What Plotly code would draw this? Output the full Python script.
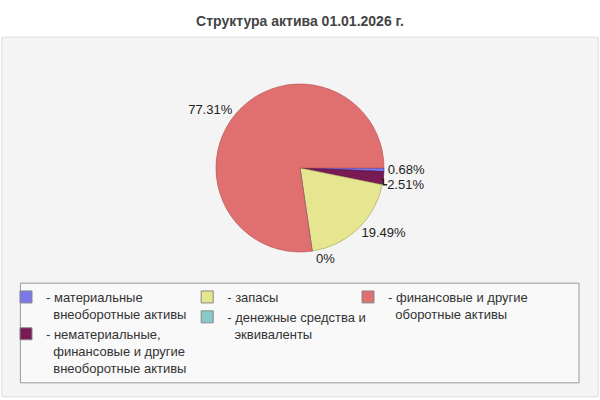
import plotly.graph_objects as go

TITLE = "Структура актива 01.01.2026 г."

categories = [
    "материальные<br>внеоборотные активы",
    "нематериальные,<br>финансовые и другие<br>внеоборотные активы",
    "запасы",
    "денежные средства и<br>эквиваленты",
    "финансовые и другие<br>оборотные активы",
]
shares = [0.68, 2.51, 19.49, 0, 77.31]
colors = ["#7b78ea", "#7a1a55", "#e6e690", "#8ac9c9", "#e07070"]
borders = ["#3030c0", "#4a0a30", "#a0a050", "#50a0a0", "#b04848"]

# which legend column each category sits in
legend_cols = ["legend", "legend", "legend2", "legend2", "legend3"]

pct_text = ["{:g}%".format(v) for v in shares]

fig = go.Figure()

fig.add_trace(go.Pie(
    labels=[c.replace("<br>", " ") for c in categories],
    values=shares,
    text=pct_text,
    texttemplate="%{text}",
    textposition="outside",
    textfont=dict(size=13, color="#222222"),
    marker=dict(colors=colors, line=dict(color=borders, width=0.6)),
    sort=False,
    direction="clockwise",
    rotation=90,
    showlegend=False,
    hoverinfo="label+percent",
    domain=dict(x=[0.25, 0.75], y=[0.37, 0.79]),
))

# legend entries, one per category
for name, col, leg in zip(categories, colors, legend_cols):
    label = "- " + name.replace("<br>", "<br>\u00a0\u00a0")
    fig.add_trace(go.Bar(
        x=[None], y=[None],
        name=label,
        marker=dict(color=col, line=dict(color="#888888", width=1)),
        legend=leg,
    ))

legend_base = dict(
    y=0.295, yanchor="top",
    valign="top",
    bgcolor="rgba(0,0,0,0)",
    font=dict(size=13, color="#333333", family="Liberation Sans, Arial"),
    tracegroupgap=0,
    itemwidth=30,
)

fig.update_layout(
    width=600, height=400,
    margin=dict(l=0, r=0, t=0, b=0),
    paper_bgcolor="white",
    plot_bgcolor="rgba(0,0,0,0)",
    font=dict(family="Liberation Sans, Arial", size=13, color="#333333"),
    title=dict(text="<b>" + TITLE + "</b>", x=0.5, xanchor="center",
               y=0.948, yanchor="middle",
               font=dict(size=14, color="#444444")),
    xaxis=dict(visible=False),
    yaxis=dict(visible=False),
    legend=dict(x=0.01, **legend_base),
    legend2=dict(x=0.312, **legend_base),
    legend3=dict(x=0.58, **legend_base),
    shapes=[
        dict(type="rect", xref="paper", yref="paper",
             x0=0.003, x1=0.997, y0=0.008, y1=0.907,
             fillcolor="#f4f4f4", line=dict(color="#dddddd", width=1),
             layer="below"),
        dict(type="rect", xref="paper", yref="paper",
             x0=0.034, x1=0.965, y0=0.043, y1=0.292,
             fillcolor="#f9f9f9", line=dict(color="#999999", width=1),
             layer="below"),
    ],
)

# page body has a default margin; drop it so the figure sits at 0,0
fig.write_html("out.html", config={"displayModeBar": False},
               post_script="document.body.style.margin='0';")
